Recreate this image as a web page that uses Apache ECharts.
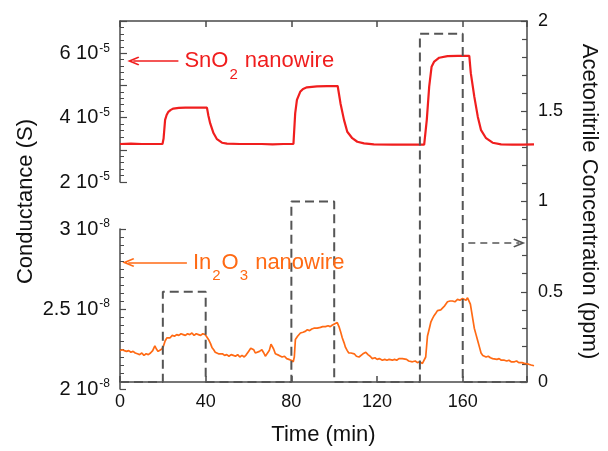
<!DOCTYPE html>
<html>
<head>
<meta charset="utf-8">
<script src="https://cdn.jsdelivr.net/npm/echarts@6/dist/echarts.min.js"></script>
<style>
  html, body { margin: 0; padding: 0; background: #fff; }
  #chart { width: 608px; height: 451px; }
</style>
</head>
<body>
<div id="chart"></div>
<script>
// time axis (min)
const timeMax = 190
const timeTickStep = 40

// SnO2 nanowire conductance, in units of 1e-5 S
const sno2Time = [0, 5, 10, 15, 19.5, 20, 20.7, 21.4, 22.2, 23.3, 24.5, 27, 30, 35, 39.9,
  40.6, 41.4, 42.9, 44.5, 46.8, 49.1, 55, 60, 65, 70, 75, 79.6,
  80.4, 81.2, 82.7, 84, 85.8, 90.4, 95, 99.9,
  101.2, 102.8, 104.3, 106.6, 108.9, 112, 116.5, 125, 130, 135, 139.6,
  140.8, 141.9, 143, 144.2, 146.5, 150.3, 155, 160.3,
  161, 162.6, 164.2, 165.7, 168, 171, 174.9, 180, 185, 190]
const sno2Value = [3.18, 3.19, 3.18, 3.18, 3.18, 3.35, 3.93, 4.08, 4.18, 4.24, 4.28, 4.30, 4.31, 4.31, 4.31,
  4.05, 3.82, 3.52, 3.33, 3.22, 3.19, 3.18, 3.18, 3.18, 3.17, 3.18, 3.18,
  4.13, 4.55, 4.80, 4.89, 4.94, 4.97, 4.98, 4.98,
  4.44, 3.93, 3.56, 3.36, 3.25, 3.20, 3.17, 3.16, 3.16, 3.16, 3.16,
  3.93, 4.96, 5.58, 5.74, 5.86, 5.91, 5.92, 5.92,
  5.38, 4.65, 4.03, 3.61, 3.36, 3.22, 3.17, 3.16, 3.16, 3.17]

// In2O3 nanowire conductance, in units of 1e-8 S
const in2o3Time = [0, 1, 2, 3, 4, 5, 6, 7, 8, 9, 10, 11, 12, 13, 14, 15, 16, 16.7, 17.5, 18.4, 19.2,
  20, 20.7, 21.5, 22.2, 23, 24, 25, 26, 27, 28, 29, 30, 31, 32, 33, 34, 35, 36, 37, 38, 39.1, 40,
  40.6, 41.5, 42.2, 43, 43.7, 44.5, 45.2, 46, 47, 48, 49, 50, 51, 52, 53, 54, 55, 56, 57, 58, 59,
  60, 60.6, 61.4, 62.1, 63, 64, 65.1, 66, 66.7, 67.5, 68.5, 69.3, 69.8, 70.5, 71.3, 72, 73, 74.4,
  75.5, 76.5, 77.5, 78.5, 79.5, 80, 80.5, 81.5, 82.8, 84, 85, 86, 87, 88, 89, 90.5, 92, 93, 94.3,
  95.5, 96.5, 97.5, 98.2, 99.7, 100.5, 101.2, 102, 102.8, 103.5, 104.3, 105, 106, 106.6, 107.5,
  108.5, 109.7, 110.5, 111.5, 112.8, 113.8, 114.8, 115.8, 117, 118, 119, 120.4, 121.5, 122.5,
  123.5, 125, 126, 127, 128, 129.6, 130.5, 131.5, 132.5, 134.2, 135.5, 136.5, 137.5, 138.8,
  139.6, 140.3, 141.1, 142, 142.7, 143.4, 144.2, 145, 145.7, 146.5, 147.2, 148, 149, 150.3,
  151.5, 152.6, 153.7, 154.9, 156, 157.2, 158, 158.8, 159.5, 160.3, 160.8, 161.4, 162, 162.6,
  163.4, 164.2, 165, 165.7, 166.5, 167.3, 168, 169, 170, 171, 171.8, 173, 174, 175, 176.4,
  177.5, 178.5, 179.5, 181, 182, 183, 184.5, 185.6, 186.5, 187.5, 188.7, 190]
const in2o3Value = [2.24, 2.245, 2.24, 2.235, 2.24, 2.23, 2.235, 2.225, 2.22, 2.215, 2.225, 2.21, 2.22, 2.215, 2.225, 2.24, 2.27, 2.25, 2.235, 2.23, 2.25,
  2.27, 2.30, 2.32, 2.33, 2.32, 2.335, 2.33, 2.34, 2.335, 2.345, 2.34, 2.335, 2.345, 2.34, 2.35, 2.335, 2.345, 2.34, 2.335, 2.345, 2.34, 2.335,
  2.31, 2.285, 2.26, 2.245, 2.23, 2.225, 2.22, 2.215, 2.22, 2.21, 2.215, 2.205, 2.215, 2.21, 2.205, 2.215, 2.20, 2.21, 2.20, 2.215, 2.235,
  2.255, 2.26, 2.245, 2.225, 2.22, 2.235, 2.245, 2.225, 2.205, 2.215, 2.24, 2.28, 2.29, 2.25, 2.22, 2.23, 2.21, 2.20,
  2.205, 2.19, 2.185, 2.18, 2.17, 2.20, 2.31, 2.33, 2.35, 2.355, 2.36, 2.37, 2.365, 2.375, 2.38, 2.38, 2.385, 2.39, 2.39,
  2.395, 2.39, 2.40, 2.40, 2.415, 2.39, 2.36, 2.32, 2.29, 2.26, 2.24, 2.225, 2.225, 2.215, 2.22,
  2.205, 2.20, 2.21, 2.22, 2.23, 2.215, 2.205, 2.19, 2.195, 2.185, 2.19, 2.18, 2.185, 2.18,
  2.185, 2.18, 2.185, 2.18, 2.19, 2.19, 2.18, 2.185, 2.175, 2.17, 2.175, 2.165, 2.17, 2.16,
  2.15, 2.20, 2.33, 2.38, 2.42, 2.44, 2.46, 2.475, 2.49, 2.485, 2.495, 2.50, 2.52, 2.545,
  2.55, 2.55, 2.545, 2.56, 2.555, 2.565, 2.56, 2.555, 2.57, 2.575, 2.53, 2.48, 2.43, 2.38,
  2.34, 2.30, 2.26, 2.225, 2.21, 2.205, 2.20, 2.205, 2.195, 2.19, 2.195, 2.185, 2.19, 2.18, 2.18,
  2.175, 2.18, 2.17, 2.17, 2.175, 2.165, 2.165, 2.16, 2.165, 2.155, 2.15, 2.145]

// acetonitrile concentration (ppm)
const concTime = [0, 20, 20, 40, 40, 80, 80, 100, 100, 140, 140, 160, 160, 190]
const concValue = [0, 0, 0.5, 0.5, 0, 0, 1, 1, 0, 0, 1.93, 1.93, 0, 0]

// annotation arrows: [tail time, tip time, level]
const sno2Arrow = [26.8, 6.1, 5.76]
const in2o3Arrow = [30.7, 3.8, 2.79]
const concArrow = [162.6, 186.4, 0.77]

const FONT = "'Liberation Sans', Arial, Helvetica, sans-serif"
const AXIS_COLOR = '#4a4a4a'
const RED = '#f01e1e'
const ORANGE = '#ff6a14'
const DASH = '#555555'
const chevron = 'path://M5,0 L10,9 L8.6,9.8 L5,3.6 L1.4,9.8 L0,9 Z'

function zip(xs, ys) {
  return xs.map((x, i) => [x, ys[i]])
}

const chart = echarts.init(document.getElementById('chart'), null, { renderer: 'canvas' })

const grids = [
  { left: 120, right: 74, top: 21, height: 161 },
  { left: 120, right: 74, top: 229, height: 160 },
  { left: 120, right: 74, top: 21, height: 368 }
]

const axisLine = { show: true, onZero: false, lineStyle: { color: AXIS_COLOR, width: 1.5 } }
const tickLabel = { color: '#111', fontFamily: FONT, fontSize: 18 }
const sup = {
  n: { fontFamily: FONT, fontSize: 20, color: '#111', lineHeight: 22 },
  s: { fontFamily: FONT, fontSize: 12, color: '#111', verticalAlign: 'top', lineHeight: 12, padding: [0, 0, 0, 1] }
}

const option = {
  animation: false,
  backgroundColor: '#fff',
  grid: grids,
  xAxis: [
    { gridIndex: 0, type: 'value', min: 0, max: timeMax, show: false },
    { gridIndex: 1, type: 'value', min: 0, max: timeMax, show: false },
    {
      gridIndex: 2, type: 'value', min: 0, max: timeMax, interval: timeTickStep,
      axisLine,
      axisTick: { inside: true, length: 6, lineStyle: { color: AXIS_COLOR, width: 1.5 } },
      axisLabel: Object.assign({}, tickLabel, {
        margin: 11,
        formatter: v => (v % timeTickStep === 0 ? String(v) : '')
      }),
      splitLine: { show: false },
      name: 'Time (min)',
      nameLocation: 'middle',
      nameGap: 42,
      nameTextStyle: { fontFamily: FONT, fontSize: 22, color: '#111' }
    },
    {
      gridIndex: 2, type: 'value', position: 'top', min: 0, max: timeMax, interval: timeTickStep,
      axisLine,
      axisTick: { inside: true, length: 6, lineStyle: { color: AXIS_COLOR, width: 1.5 } },
      axisLabel: { show: false },
      splitLine: { show: false }
    }
  ],
  yAxis: [
    {
      gridIndex: 0, type: 'value', min: 2, max: 7, interval: 1,
      axisLine,
      axisTick: { inside: true, length: 7, lineStyle: { color: AXIS_COLOR, width: 1.2 } },
      minorTick: { show: true, splitNumber: 5, length: 4, lineStyle: { color: AXIS_COLOR, width: 1 } },
      axisLabel: {
        margin: 10,
        formatter: v => {
          const n = Math.round(v)
          if (Math.abs(v - n) > 1e-6 || n % 2) return ''
          return '{n|' + n + ' 10}{s|-5}'
        },
        rich: sup
      },
      splitLine: { show: false }
    },
    {
      gridIndex: 1, type: 'value', min: 2, max: 3, interval: 0.5,
      axisLine,
      axisTick: { inside: true, length: 6, lineStyle: { color: AXIS_COLOR, width: 1.2 } },
      minorTick: { show: true, splitNumber: 10, length: 4, lineStyle: { color: AXIS_COLOR, width: 1 } },
      axisLabel: {
        margin: 10,
        formatter: v => '{n|' + (+v.toFixed(1)) + ' 10}{s|-8}',
        rich: sup
      },
      splitLine: { show: false }
    },
    {
      gridIndex: 2, type: 'value', position: 'right', min: 0, max: 2, interval: 0.5,
      axisLine,
      axisTick: { inside: true, length: 6, lineStyle: { color: AXIS_COLOR, width: 1.2 } },
      minorTick: { show: true, splitNumber: 5, length: 5, lineStyle: { color: AXIS_COLOR, width: 1.2 } },
      axisLabel: Object.assign({}, tickLabel, { margin: 11 }),
      splitLine: { show: false },
      name: 'Acetonitrile Concentration (ppm)',
      nameLocation: 'middle',
      nameRotate: -90,
      nameGap: 51,
      nameTextStyle: { fontFamily: FONT, fontSize: 22, color: '#111' }
    },
    {
      gridIndex: 2, type: 'value', position: 'left', min: 0, max: 1,
      axisLine: { show: false, onZero: false }, axisTick: { show: false }, axisLabel: { show: false },
      splitLine: { show: false },
      name: 'Conductance (S)',
      nameLocation: 'middle',
      nameGap: 83,
      nameTextStyle: { fontFamily: FONT, fontSize: 22, color: '#111' }
    }
  ],
  series: [
    {
      name: 'SnO2', type: 'line', xAxisIndex: 0, yAxisIndex: 0,
      data: zip(sno2Time, sno2Value),
      showSymbol: false,
      lineStyle: { color: RED, width: 2.2 },
      itemStyle: { color: RED },
      markLine: {
        silent: true,
        symbol: ['none', chevron],
        symbolSize: [9, 12],
        lineStyle: { color: RED, width: 1.5, type: 'solid' },
        label: {
          show: true, position: 'start', distance: 6,
          formatter: '{a|SnO}{b|2}{a| nanowire}',
          rich: {
            a: { fontFamily: FONT, fontSize: 22, color: RED, lineHeight: 26 },
            b: { fontFamily: FONT, fontSize: 15, color: RED, verticalAlign: 'bottom', lineHeight: 16, padding: [0, 1, -8, 1] }
          }
        },
        data: [[{ coord: [sno2Arrow[0], sno2Arrow[2]] }, { coord: [sno2Arrow[1], sno2Arrow[2]] }]]
      }
    },
    {
      name: 'In2O3', type: 'line', xAxisIndex: 1, yAxisIndex: 1,
      data: zip(in2o3Time, in2o3Value),
      showSymbol: false,
      lineStyle: { color: ORANGE, width: 1.7 },
      itemStyle: { color: ORANGE },
      markLine: {
        silent: true,
        symbol: ['none', chevron],
        symbolSize: [9, 12],
        lineStyle: { color: ORANGE, width: 1.5, type: 'solid' },
        label: {
          show: true, position: 'start', distance: 6,
          formatter: '{a|In}{b|2}{a|O}{b|3}{a| nanowire}',
          rich: {
            a: { fontFamily: FONT, fontSize: 22, color: ORANGE, lineHeight: 26 },
            b: { fontFamily: FONT, fontSize: 15, color: ORANGE, verticalAlign: 'bottom', lineHeight: 16, padding: [0, 1, -8, 1] }
          }
        },
        data: [[{ coord: [in2o3Arrow[0], in2o3Arrow[2]] }, { coord: [in2o3Arrow[1], in2o3Arrow[2]] }]]
      }
    },
    {
      name: 'Acetonitrile', type: 'line', xAxisIndex: 2, yAxisIndex: 2,
      data: zip(concTime, concValue),
      showSymbol: false,
      lineStyle: { color: DASH, width: 2, type: [9, 5] },
      itemStyle: { color: DASH },
      markLine: {
        silent: true,
        symbol: ['none', chevron],
        symbolSize: [9, 12],
        lineStyle: { color: DASH, width: 1.5, type: [7, 5] },
        label: { show: false },
        data: [[{ coord: [concArrow[0], concArrow[2]] }, { coord: [concArrow[1], concArrow[2]] }]]
      }
    }
  ]
}

chart.setOption(option)
</script>
</body>
</html>
